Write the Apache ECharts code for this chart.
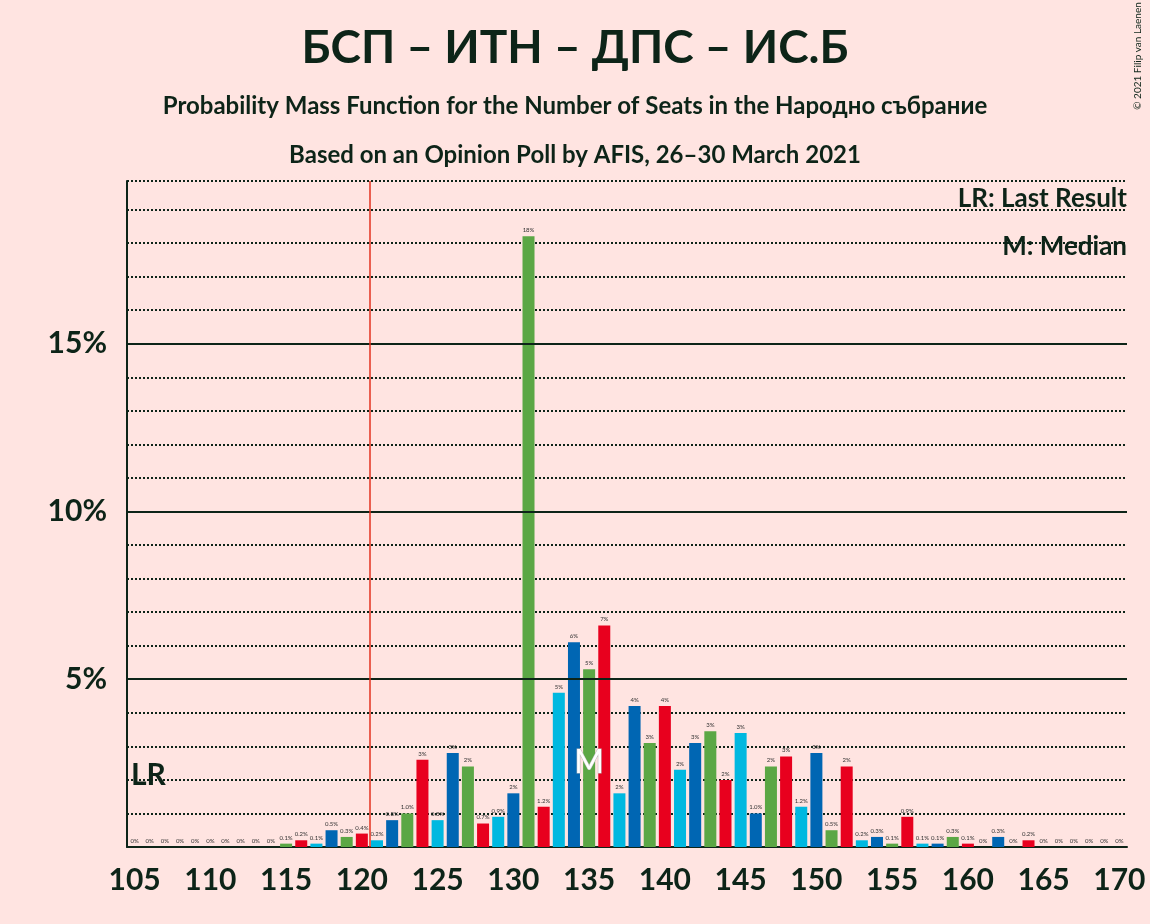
<!DOCTYPE html>
<html>
<head>
<meta charset="utf-8">
<script src="https://cdn.jsdelivr.net/npm/echarts@6/dist/echarts.min.js"></script>
<style>
  body { margin: 0; background: #FFE4E1; }
  #chart { width: 1150px; height: 924px; }
</style>
</head>
<body>
<div id="chart"></div>
<script>
const seats = [];
for (let s = 105; s <= 170; s++) seats.push(s);
const probs = [
  0, 0, 0, 0, 0, 0, 0, 0, 0, 0,
  0.1, 0.2, 0.1, 0.5, 0.3, 0.4, 0.2, 0.8, 1.0, 2.6,
  0.8, 2.8, 2.4, 0.7, 0.9, 1.6, 18.2, 1.2, 4.6, 6.1,
  5.3, 6.6, 1.6, 4.2, 3.1, 4.2, 2.3, 3.1, 3.45, 2.0,
  3.4, 1.0, 2.4, 2.7, 1.2, 2.8, 0.5, 2.4, 0.2, 0.3,
  0.1, 0.9, 0.1, 0.1, 0.3, 0.1, 0, 0.3, 0, 0.2,
  0, 0, 0, 0, 0, 0
];
const xTicks = [105, 110, 115, 120, 125, 130, 135, 140, 145, 150, 155, 160, 165, 170];
const lastResult = 120.5;
const median = 135;
const palette = ['#E8001E', '#00B8E0', '#0066B3', '#5BA745'];
const ink = '#0D2418';

function fmt(v) {
  if (v === 0) return '0%';
  if (v < 1.5) return v.toFixed(1) + '%';
  return Math.round(v) + '%';
}

const chart = echarts.init(document.getElementById('chart'));
chart.setOption({
  backgroundColor: '#FFE4E1',
  textStyle: { fontFamily: 'Lato' },
  title: [
    { text: 'БСП – ИТН – ДПС – ИС.Б', left: 'center', top: 20,
      textStyle: { fontSize: 46, fontWeight: 'bold', color: ink, fontFamily: 'Lato' } },
    { text: 'Probability Mass Function for the Number of Seats in the Народно събрание', left: 'center', top: 89,
      textStyle: { fontSize: 24, fontWeight: 'bold', color: ink, fontFamily: 'Lato' } },
    { text: 'Based on an Opinion Poll by AFIS, 26–30 March 2021', left: 'center', top: 138,
      textStyle: { fontSize: 24, fontWeight: 'bold', color: ink, fontFamily: 'Lato' } }
  ],
  graphic: [
    { type: 'text', right: 23, top: 186, style: { text: 'LR: Last Result', font: 'bold 26px Lato', fill: ink } },
    { type: 'text', right: 23, top: 234, style: { text: 'M: Median', font: 'bold 26px Lato', fill: ink } },
    { type: 'text', left: 131, top: 760, style: { text: 'LR', font: 'bold 30px Lato', fill: ink } },
    { type: 'text', x: 1138, y: 56, rotation: Math.PI / 2,
      style: { text: '© 2021 Filip van Laenen', font: '10px Lato', fill: ink, align: 'center', verticalAlign: 'middle' } }
  ],
  grid: { left: 127, right: 23, top: 181, bottom: 77 },
  xAxis: {
    type: 'value', min: 104.5, max: 170.5,
    axisLine: { lineStyle: { color: ink, width: 2 } },
    axisTick: { show: false },
    splitLine: { show: false },
    axisLabel: {
      fontSize: 30, fontWeight: 'bold', color: ink, margin: 18,
      customValues: xTicks
    }
  },
  yAxis: {
    type: 'value', min: 0, max: 19.85, interval: 1,
    axisLine: { show: true, lineStyle: { color: ink, width: 2 } },
    axisTick: { show: false },
    splitLine: { lineStyle: { type: 'dotted', color: ink, width: 2 } },
    axisLabel: {
      fontSize: 30, fontWeight: 'bold', color: ink, margin: 20,
      customValues: [5, 10, 15],
      formatter: v => v + '%'
    }
  },
  series: [{
    type: 'bar',
    barWidth: 12,
    data: seats.map((s, i) => ({
      value: [s, probs[i]],
      itemStyle: { color: palette[s % 4] }
    })),
    label: {
      show: true, position: 'top', fontSize: 6, color: '#333', distance: 3,
      formatter: p => fmt(p.value[1])
    },
    markLine: {
      silent: true, symbol: 'none', label: { show: false },
      data: [
        { yAxis: 5, lineStyle: { color: ink, type: 'solid', width: 2 } },
        { yAxis: 10, lineStyle: { color: ink, type: 'solid', width: 2 } },
        { yAxis: 15, lineStyle: { color: ink, type: 'solid', width: 2 } },
        { xAxis: lastResult, lineStyle: { color: '#E3321E', type: 'solid', width: 1.5 } }
      ]
    },
    markPoint: {
      silent: true, symbol: 'rect', symbolSize: 1,
      data: [{ coord: [median, 2.5], itemStyle: { color: 'transparent' },
        label: { show: true, formatter: 'M', fontSize: 32, color: '#fff',
          textBorderColor: '#bbb', textBorderWidth: 1, fontFamily: 'Lato' } }]
    }
  }]
});
</script>
</body>
</html>
